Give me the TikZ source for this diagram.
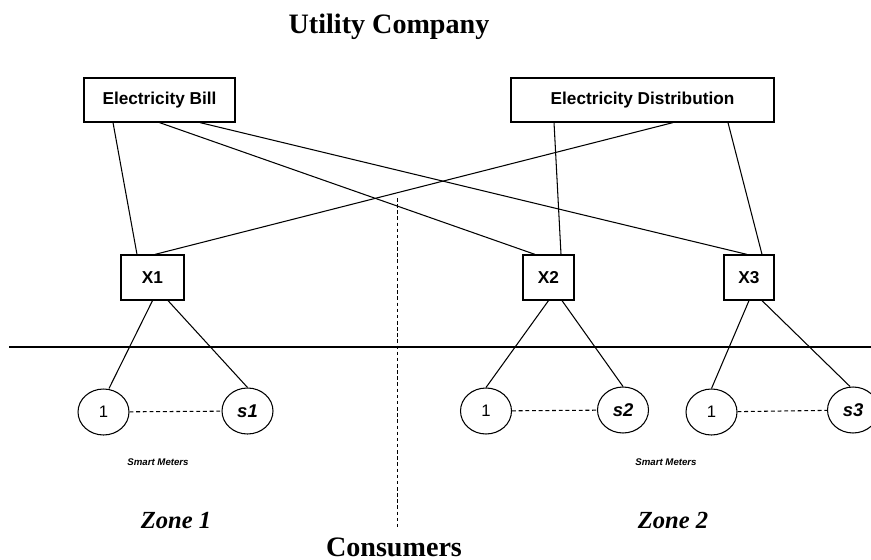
\documentclass[tikz,border=0pt]{standalone}
\usepackage{fontspec}
\setmainfont{Liberation Serif}
\setsansfont{Liberation Sans}
\usetikzlibrary{shapes.geometric}
\tikzset{unit/.style={draw,line width=0.7pt,inner sep=0pt,minimum height=0.88cm,font=\sffamily\bfseries\fontsize{9.8}{11}\selectfont}, meter/.style={ellipse,draw,line width=0.6pt,inner sep=0pt,minimum width=1.02cm,minimum height=0.92cm,font=\sffamily\fontsize{9.5}{10}\selectfont}, sid/.style={font=\sffamily\bfseries\itshape\fontsize{10.5}{12}\selectfont}, wire/.style={line width=0.6pt}, link/.style={line width=0.6pt,dash pattern=on 2.2pt off 1.6pt}, zone/.style={font=\bfseries\itshape\fontsize{14}{16}\selectfont}, head/.style={font=\bfseries\fontsize{16}{18}\selectfont}, tag/.style={font=\sffamily\bfseries\itshape\fontsize{5.5}{7}\selectfont}}

\begin{document}
\begin{tikzpicture}[x=0.02cm,y=-0.02cm]
\useasboundingbox (0,0) rectangle (871,560);
% utility side
\node[head,anchor=base] (uc) at (389,34) {Utility Company};
\node[unit,minimum width=3.02cm] (bill) at (159.5,100) {Electricity Bill};
\node[unit,minimum width=5.26cm] (dist) at (642.5,100) {Electricity Distribution};
\node[unit,minimum width=1.26cm,minimum height=0.9cm] (x1) at (152.5,277.5) {X1};
\node[unit,minimum width=1.02cm,minimum height=0.9cm] (x2) at (548.5,277.5) {X2};
\node[unit,minimum width=1cm,minimum height=0.9cm] (x3) at (749,277.5) {X3};
% smart meters
\node[meter] (m1) at (103.5,412) {1};
\node[meter,sid] (s1) at (247.5,411) {s1};
\node[meter] (m2) at (486,411) {1};
\node[meter,sid] (s2) at (623,410) {s2};
\node[meter] (m3) at (711.5,412) {1};
\node[meter,sid] (s3) at (853,410) {s3};
\node[tag] (t1) at (158,462) {Smart Meters};
\node[tag] (t2) at (666,462) {Smart Meters};
\node[zone,anchor=base] (z1) at (176,528) {Zone 1};
\node[zone,anchor=base] (z2) at (673,528) {Zone 2};
\node[head,anchor=base] (cs) at (394,556) {Consumers};
% border lines
\coordinate (hl) at (9,347);
\coordinate (hr) at (871,347);
\coordinate (vt) at (397,198);
\coordinate (vb) at (397,527);
\draw[line width=0.8pt] (hl) -- (hr);
\draw[link,line width=0.5pt,dash pattern=on 2pt off 1.5pt] (vt) -- (vb);
% bill and distribution to the controllers
\draw[wire] ([xshift=-0.93cm]bill.south) -- ([xshift=-0.31cm]x1.north);
\draw[wire] (bill.south) -- ([xshift=-0.27cm]x2.north);
\draw[wire] ([xshift=0.81cm]bill.south) -- ([xshift=-0.04cm]x3.north);
\draw[wire] ([xshift=0.61cm]dist.south) -- ([xshift=0.05cm]x1.north);
\draw[wire] ([xshift=-1.77cm]dist.south) -- ([xshift=0.25cm]x2.north);
\draw[wire] ([xshift=1.71cm]dist.south) -- ([xshift=0.26cm]x3.north);
% controllers to meters
\draw[wire] (x1.south) -- ([xshift=0.11cm]m1.north);
\draw[wire] ([xshift=0.31cm]x1.south) -- (s1.north);
\draw[wire] (x2.south) -- (m2.north);
\draw[wire] ([xshift=0.27cm]x2.south) -- (s2.north);
\draw[wire] (x3.south) -- (m3.north);
\draw[wire] ([xshift=0.26cm]x3.south) -- ([xshift=-0.06cm]s3.north);
\draw[link] (m1) -- (s1);
\draw[link] (m2) -- (s2);
\draw[link] (m3) -- (s3);
\end{tikzpicture}
\end{document}
